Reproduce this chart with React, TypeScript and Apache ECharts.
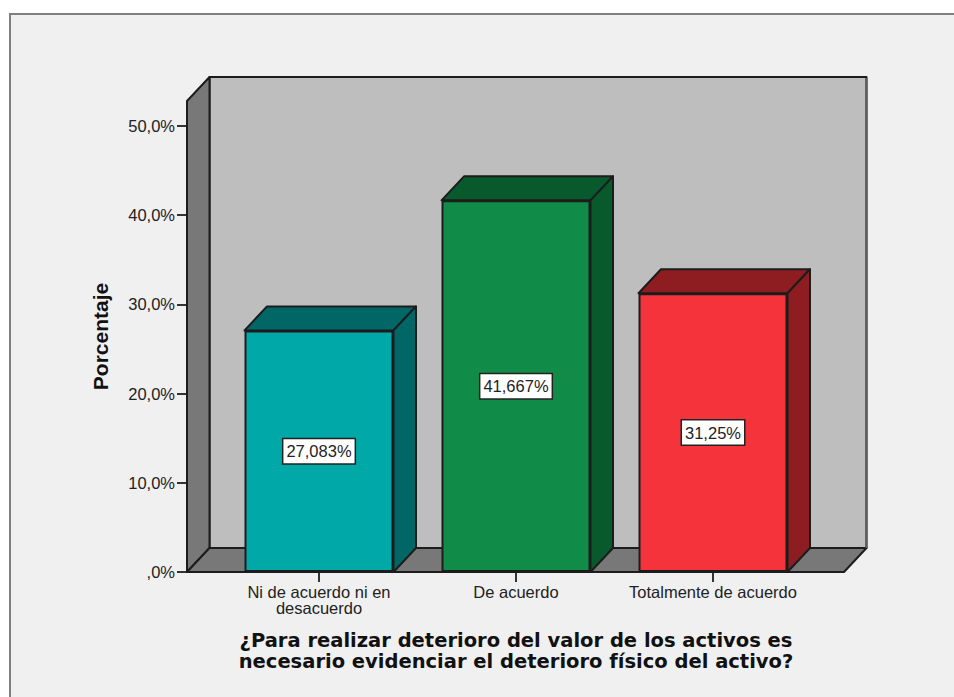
import React, { useEffect, useRef } from "react";
import * as echarts from "echarts";

const categories = ["Ni de acuerdo ni en\ndesacuerdo", "De acuerdo", "Totalmente de acuerdo"];
const percentages = [27.083, 41.667, 31.25];
const frontColors = ["#00A8A8", "#108C48", "#F4333A"];
const shadeColors = ["#006666", "#085A2C", "#8E1D21"];
const yTicks = [0, 10, 20, 30, 40, 50];
const xTitle = "¿Para realizar deterioro del valor de los activos es\nnecesario evidenciar el deterioro físico del activo?";
const yTitle = "Porcentaje";

const FONT = "'Liberation Sans', Arial, sans-serif";
const WIDE_BOLD = "'DejaVu Sans', Verdana, sans-serif";
const DX = 22.5;
const DY = 24;
const BAR_W = 149;
const SIDE_PAD = 33.5;
const LINE = "#1c1c1c";
const YMAX = 52.8;

const fmtTick = (v: number) => (v === 0 ? ",0%" : `${v},0%`);
const fmtValue = (v: number) => `${String(v).replace(".", ",")}%`;

export default function App() {
  const ref = useRef<HTMLDivElement>(null);
  useEffect(() => {
    document.body.style.margin = "0";
    const chart = echarts.init(ref.current!, null, { renderer: "svg" });
    const lineStyle = { stroke: LINE, lineWidth: 2, lineJoin: "round" };
    chart.setOption({
      animation: false,
      backgroundColor: "#ffffff",
      graphic: [
        {
          type: "rect",
          z: -10,
          shape: { x: 10, y: 14, width: 960, height: 700 },
          style: { fill: "#F0F0F0", stroke: "#7f7f7f", lineWidth: 2 },
        },
      ],
      grid: { left: 220.5, top: 101, width: 591, height: 471, containLabel: false },
      xAxis: {
        type: "category",
        data: categories,
        axisLine: { show: false },
        axisTick: { show: true, alignWithLabel: true, length: 10, lineStyle: { color: "#333", width: 2 } },
        axisLabel: { fontFamily: FONT, fontSize: 16.5, color: "#222", lineHeight: 16, margin: 12, interval: 0 },
        name: xTitle,
        nameLocation: "middle",
        nameGap: 58,
        nameTextStyle: { fontFamily: WIDE_BOLD, fontSize: 19.5, fontWeight: "bold", color: "#111", lineHeight: 21 },
      },
      yAxis: {
        type: "value",
        min: 0,
        max: YMAX,
        offset: SIDE_PAD,
        splitLine: { show: false },
        axisLine: { show: false },
        axisTick: { show: true, length: 10, customValues: yTicks, lineStyle: { color: "#333", width: 2 } },
        axisLabel: { fontFamily: FONT, fontSize: 16.5, color: "#222", margin: 12, padding: [4, 0, 0, 0], customValues: yTicks, formatter: fmtTick },
        name: yTitle,
        nameLocation: "middle",
        nameGap: 76,
        nameTextStyle: { fontFamily: FONT, fontSize: 21, fontWeight: "bold", color: "#111" },
      },
      series: [
        {
          type: "custom",
          z: 1,
          silent: true,
          data: [[0, 0]],
          encode: { x: 0, y: 1 },
          renderItem: (_p: any, api: any) => {
            const [x0, y0] = api.coord([0, 0]);
            const [, yTop] = api.coord([0, YMAX]);
            const [x2] = api.coord([2, 0]);
            const left = x0 - 132;
            const right = x2 + 131;
            return {
              type: "group",
              children: [
                { type: "polygon", shape: { points: [[left + DX, yTop - DY], [right + DX, yTop - DY], [right + DX, y0 - DY], [left + DX, y0 - DY]] }, style: { fill: "#BEBEBE", ...lineStyle } },
                { type: "polygon", shape: { points: [[left, yTop], [left + DX, yTop - DY], [left + DX, y0 - DY], [left, y0]] }, style: { fill: "#787878", ...lineStyle } },
                { type: "polygon", shape: { points: [[left, y0], [left + DX, y0 - DY], [right + DX, y0 - DY], [right, y0]] }, style: { fill: "#787878", ...lineStyle } },
                { type: "line", shape: { x1: right + DX, y1: yTop - DY + 1, x2: right + DX, y2: y0 - DY }, style: { stroke: "#5c5c5c", lineWidth: 2 } },
              ],
            };
          },
        },
        {
          type: "bar",
          z: 2,
          barWidth: BAR_W,
          data: percentages.map((v, i) => ({ value: v, itemStyle: { color: frontColors[i] } })),
          itemStyle: { borderColor: LINE, borderWidth: 2 },
          label: {
            show: true,
            position: "inside",
            formatter: (p: any) => fmtValue(p.value),
            fontFamily: FONT,
            fontSize: 16.5,
            color: "#222",
            backgroundColor: "#ffffff",
            borderColor: "#222",
            borderWidth: 1.5,
            padding: [4, 3, 3, 3],
          },
        },
        {
          type: "custom",
          z: 3,
          silent: true,
          data: percentages.map((v, i) => [i, v]),
          encode: { x: 0, y: 1 },
          renderItem: (p: any, api: any) => {
            const [cx, yv] = api.coord([api.value(0), api.value(1)]);
            const [, y0] = api.coord([0, 0]);
            const l = cx - BAR_W / 2;
            const r = cx + BAR_W / 2;
            const shade = shadeColors[p.dataIndex];
            return {
              type: "group",
              children: [
                { type: "polygon", shape: { points: [[l, yv], [l + DX, yv - DY], [r + DX, yv - DY], [r, yv]] }, style: { fill: shade, ...lineStyle } },
                { type: "polygon", shape: { points: [[r, yv], [r + DX, yv - DY], [r + DX, y0 - DY], [r, y0]] }, style: { fill: shade, ...lineStyle } },
              ],
            };
          },
        },
        {
          type: "custom",
          z: 4,
          silent: true,
          data: [[0, 0]],
          encode: { x: 0, y: 1 },
          renderItem: (_p: any, api: any) => {
            const [x0, y0] = api.coord([0, 0]);
            const [x2] = api.coord([2, 0]);
            return {
              type: "line",
              shape: { x1: x0 - 132, y1: y0, x2: x2 + 131, y2: y0 },
              style: { stroke: LINE, lineWidth: 2 },
            };
          },
        },
      ],
    });
    return () => chart.dispose();
  }, []);
  return <div ref={ref} style={{ width: 954, height: 697 }} />;
}
